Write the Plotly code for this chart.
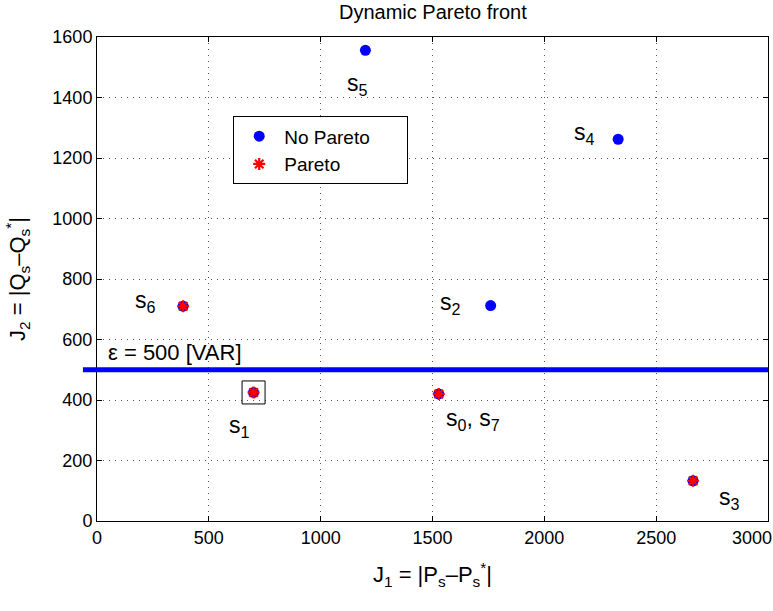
import plotly.graph_objects as go

# ---- data ----
labels = ["s<sub>0</sub>, s<sub>7</sub>", "s<sub>1</sub>", "s<sub>2</sub>", "s<sub>3</sub>",
          "s<sub>4</sub>", "s<sub>5</sub>", "s<sub>6</sub>"]
j1_all = [1528, 700, 1760, 2665, 2330, 1200, 385]
j2_all = [420, 425, 712, 133, 1262, 1556, 710]
pareto_j1 = [1528, 700, 2665, 385]
pareto_j2 = [420, 425, 133, 710]
selected_j1 = [700]
selected_j2 = [425]
epsilon = 500
x_ticks = [0, 500, 1000, 1500, 2000, 2500, 3000]
x_tick_text = ["0", "500", "1000", "1500", "2000", "2500", ""]
last_x_tick = "3000"
y_ticks = [0, 200, 400, 600, 800, 1000, 1200, 1400, 1600]

# label offsets in pixels (dx, dy) relative to each point
label_shift = [(34, -26), (-14, -34), (-40, 2), (36, -18), (-34, 6), (-8, -34), (-38, 5)]

FONT = "Liberation Sans, Arial, sans-serif"
BLUE = "#0000FF"
NB = "\u00a0"

fig = go.Figure()
fig.add_trace(go.Scatter(
    x=j1_all, y=j2_all, mode="markers", name="No Pareto" + NB * 6,
    marker=dict(symbol="circle", size=11, color=BLUE),
))
fig.add_trace(go.Scatter(
    x=pareto_j1, y=pareto_j2, mode="markers", name="Pareto",
    marker=dict(symbol="asterisk-open", size=10, color="red",
                line=dict(color="red", width=2.2)),
))
fig.add_trace(go.Scatter(
    x=selected_j1, y=selected_j2, mode="markers", showlegend=False,
    marker=dict(symbol="square-open", size=23, color="black",
                line=dict(color="black", width=1)),
))

fig.add_shape(type="line", xref="paper", yref="y", x0=-0.021, x1=1.0,
              y0=epsilon, y1=epsilon, line=dict(color=BLUE, width=5))

for lab, x, y, (dx, dy) in zip(labels, j1_all, j2_all, label_shift):
    fig.add_annotation(x=x, y=y, xref="x", yref="y", text=lab, showarrow=False,
                       xshift=dx, yshift=dy, font=dict(family=FONT, size=23, color="black"))

fig.add_annotation(x=40, y=epsilon, xref="x", yref="y", text="ε = 500 [VAR]",
                   showarrow=False, xanchor="left", yanchor="bottom", yshift=3,
                   font=dict(family=FONT, size=22, color="black"))

# last x tick label, kept inside the page
fig.add_annotation(x=x_ticks[-1], y=0, xref="x", yref="y", text=last_x_tick,
                   showarrow=False, xanchor="right", yanchor="top", xshift=6, yshift=-5,
                   font=dict(family=FONT, size=18, color="black"))

axis_common = dict(
    showgrid=True, gridcolor="#555", griddash="1px,5px", gridwidth=1,
    showline=True, linecolor="black", linewidth=1, mirror="ticks",
    ticks="inside", ticklen=5, tickcolor="black", zeroline=False,
    automargin=False,
    tickfont=dict(family=FONT, size=18, color="black"),
)

fig.update_xaxes(range=[0, 3000], tickvals=x_ticks, ticktext=x_tick_text, **axis_common,
                 title=dict(text="J<sub>1</sub> = |P<sub>s</sub>–P<sub>s</sub><sup>*</sup>|",
                            font=dict(family=FONT, size=22, color="black"), standoff=20))
fig.update_yaxes(range=[0, 1600], tickvals=y_ticks, **axis_common,
                 title=dict(text="J<sub>2</sub> = |Q<sub>s</sub>–Q<sub>s</sub><sup>*</sup>|",
                            font=dict(family=FONT, size=22, color="black"), standoff=20))

fig.update_layout(
    width=773, height=611,
    margin=dict(l=97, r=5, t=37, b=90, autoexpand=False),
    paper_bgcolor="white", plot_bgcolor="white",
    title=dict(text="Dynamic Pareto front", x=0.56, xanchor="center",
               y=1 - 12 / 611, yanchor="middle", automargin=False,
               font=dict(family=FONT, size=20, color="black")),
    legend=dict(x=0.203, y=0.836, xanchor="left", yanchor="top",
                bordercolor="black", borderwidth=1, bgcolor="white",
                font=dict(family=FONT, size=19, color="black"),
                itemwidth=40, tracegroupgap=0),
    showlegend=True,
)

fig.write_html("out.html", config={"displayModeBar": False},
               post_script="document.body.style.margin='0px';")
